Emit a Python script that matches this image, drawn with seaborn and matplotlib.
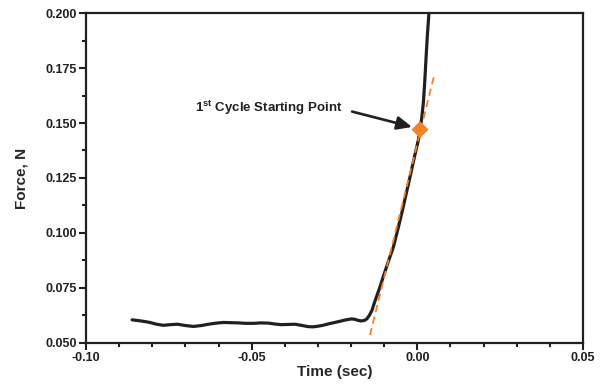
import matplotlib
matplotlib.use("Agg")
import matplotlib.pyplot as plt
from matplotlib.ticker import MultipleLocator, FormatStrFormatter
import seaborn as sns
import pandas as pd

# Force curve (time in sec, force in N)
time_s = [-0.0861, -0.0835, -0.0810, -0.0787, -0.0767, -0.0745, -0.0724, -0.0700,
          -0.0676, -0.0652, -0.0630, -0.0607, -0.0585, -0.0562, -0.0540, -0.0517,
          -0.0494, -0.0472, -0.0450, -0.0430, -0.0412, -0.0390, -0.0370, -0.0350,
          -0.0330, -0.0315, -0.0300, -0.0285, -0.0270, -0.0252, -0.0235, -0.0218,
          -0.0200, -0.0190, -0.0180, -0.0170, -0.0160, -0.0152, -0.0145, -0.0137,
          -0.0128, -0.0115, -0.0103, -0.0088, -0.0072, -0.0060, -0.0047, -0.0035,
          -0.0022, -0.0010, 0.0003, 0.0008, 0.0013, 0.0018, 0.0022, 0.0026,
          0.0030, 0.0035]
force_n = [0.0605, 0.0600, 0.0594, 0.0585, 0.0580, 0.0583, 0.0585, 0.0579,
           0.0575, 0.0579, 0.0585, 0.0590, 0.0593, 0.0592, 0.0591, 0.0589,
           0.0589, 0.0591, 0.0590, 0.0586, 0.0583, 0.0584, 0.0585, 0.0580,
           0.0574, 0.0573, 0.0576, 0.0580, 0.0586, 0.0592, 0.0598, 0.0604,
           0.0609, 0.0608, 0.0603, 0.0600, 0.0602, 0.0610, 0.0625, 0.0648,
           0.0690, 0.0745, 0.0801, 0.0868, 0.0938, 0.1010, 0.1090, 0.1170,
           0.1256, 0.1338, 0.1423, 0.1470, 0.1520, 0.1590, 0.1680, 0.1790,
           0.1895, 0.2000]

# Tangent fit line (orange dashed)
fit_time = [-0.0143, 0.0051]
fit_force = [0.0536, 0.1718]

# Starting point
start_time = [0.0008]
start_force = [0.1470]

x_ticks = [-0.10, -0.05, 0.00, 0.05]
y_ticks = [0.050, 0.075, 0.100, 0.125, 0.150, 0.175, 0.200]

sns.set_style("ticks")
plt.rcParams["font.family"] = ["Liberation Sans", "DejaVu Sans"]
plt.rcParams["font.weight"] = "bold"
plt.rcParams["mathtext.fontset"] = "custom"
plt.rcParams["mathtext.bf"] = "Liberation Sans:bold"
plt.rcParams["mathtext.rm"] = "Liberation Sans:bold"

fig = plt.figure(figsize=(6.1, 3.84), dpi=100)
ax = fig.add_axes([0.141, 0.107, 0.8148, 0.859])

curve = pd.DataFrame({"t": time_s, "f": force_n})
fit = pd.DataFrame({"t": fit_time, "f": fit_force})
pt = pd.DataFrame({"t": start_time, "f": start_force})

sns.lineplot(data=curve, x="t", y="f", ax=ax, color="#231f20", lw=2.3,
             sort=False, zorder=2)
sns.lineplot(data=fit, x="t", y="f", ax=ax, color="#f5821f", lw=1.3,
             linestyle=(0, (4, 2.5)), sort=False, zorder=3)
sns.scatterplot(data=pt, x="t", y="f", ax=ax, marker="D", s=75,
                color="#f5821f", edgecolor="none", zorder=4)

ax.text(-0.0671, 0.1568, r"1$^{\mathbf{st}}$ Cycle Starting Point",
        fontsize=9.5, fontweight="bold", va="center", ha="left", color="#231f20")
ax.annotate("", xy=(-0.0016, 0.1482), xytext=(-0.0197, 0.1552),
            arrowprops=dict(arrowstyle="-|>,head_length=0.9,head_width=0.4",
                            color="#231f20", lw=1.9, shrinkA=0, shrinkB=0))

ax.set_xlim(-0.10, 0.05)
ax.set_ylim(0.05, 0.20)
ax.set_xticks(x_ticks)
ax.set_yticks(y_ticks)
ax.xaxis.set_major_formatter(FormatStrFormatter("%.2f"))
ax.yaxis.set_major_formatter(FormatStrFormatter("%.3f"))
ax.xaxis.set_minor_locator(MultipleLocator(0.01))
ax.yaxis.set_minor_locator(MultipleLocator(0.0125))
ax.tick_params(which="major", length=5, width=1.5, labelsize=9, pad=1.5, colors="#231f20")
ax.tick_params(which="minor", length=3, width=1.5, colors="#231f20")
for lab in ax.get_xticklabels() + ax.get_yticklabels():
    lab.set_fontweight("bold")

for s in ax.spines.values():
    s.set_visible(True)
    s.set_linewidth(1.6)
    s.set_color("#231f20")

ax.set_xlabel("Time (sec)", fontsize=11, fontweight="bold", labelpad=1)
ax.set_ylabel("Force, N", fontsize=11, fontweight="bold", labelpad=12)

fig.savefig("out.png", dpi=100)
